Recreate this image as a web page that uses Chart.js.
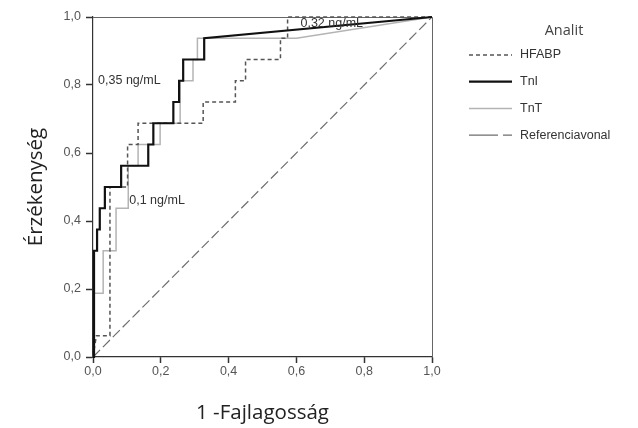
<!DOCTYPE html>
<html>
<head>
<meta charset="utf-8">
<script src="https://cdn.jsdelivr.net/npm/chart.js@4.4.1/dist/chart.umd.min.js"></script>
<style>
    html, body { margin: 0; padding: 0; background: #fff; }
    #roc { display: block; }
</style>
</head>
<body>
<canvas id="roc" width="638" height="428"></canvas>
<script>
// ROC curve data (1 - specificity on x, sensitivity on y)
var seriesNames = ['HFABP', 'TnI', 'TnT', 'Referenciavonal'];
var legendTitle = 'Analit';

var hfabpX = [0, 0.01, 0.05, 0.05, 0.102, 0.102, 0.133, 0.133, 0.325, 0.325, 0.42, 0.42, 0.45, 0.45, 0.553, 0.553, 0.574, 0.574, 1];
var hfabpY = [0, 0.0625, 0.0625, 0.5, 0.5, 0.625, 0.625, 0.6875, 0.6875, 0.75, 0.75, 0.8125, 0.8125, 0.875, 0.875, 0.9375, 0.9375, 1, 1];

var tniX = [0, 0.003, 0.003, 0.012, 0.012, 0.02, 0.02, 0.035, 0.035, 0.083, 0.083, 0.163, 0.163, 0.178, 0.178, 0.237, 0.237, 0.254, 0.254, 0.266, 0.266, 0.328, 0.328, 1];
var tniY = [0, 0, 0.3125, 0.3125, 0.375, 0.375, 0.4375, 0.4375, 0.5, 0.5, 0.5625, 0.5625, 0.625, 0.625, 0.6875, 0.6875, 0.75, 0.75, 0.8125, 0.8125, 0.875, 0.875, 0.9375, 1];

var tntX = [0, 0.003, 0.003, 0.03, 0.03, 0.068, 0.068, 0.104, 0.104, 0.133, 0.133, 0.198, 0.198, 0.257, 0.257, 0.295, 0.295, 0.308, 0.308, 0.6, 1];
var tntY = [0, 0, 0.1875, 0.1875, 0.3125, 0.3125, 0.4375, 0.4375, 0.5625, 0.5625, 0.625, 0.625, 0.6875, 0.6875, 0.8125, 0.8125, 0.875, 0.875, 0.9375, 0.9375, 1];

var refX = [0, 1];
var refY = [0, 1];

var axisTicks = [0, 0.2, 0.4, 0.6, 0.8, 1.0];

// cut-off labels placed at (x, y) in data units
var cutoffText = ['0,35 ng/mL', '0,1 ng/mL', '0,32 ng/mL'];
var cutoffX = [0.015, 0.107, 0.612];
var cutoffY = [0.812, 0.46, 0.98];

function toPoints(xs, ys) {
    return xs.map(function(x, i) { return { x: x, y: ys[i] }; });
}

function fmtComma(v) {
    return Number(v).toFixed(1).replace('.', ',');
}

var lineStyles = [
    { color: '#555555', width: 1.5, dash: [4, 3], legendDash: [4, 3] },
    { color: '#111111', width: 2.2, dash: [], legendDash: [] },
    { color: '#b4b4b4', width: 1.5, dash: [], legendDash: [] },
    { color: '#6e6e6e', width: 1.2, dash: [10, 4], legendDash: [29, 5] }
];

var seriesData = [
    toPoints(hfabpX, hfabpY),
    toPoints(tniX, tniY),
    toPoints(tntX, tntY),
    toPoints(refX, refY)
];
var drawOrder = [1, 0, 2, 3];

var datasets = seriesNames.map(function(name, i) {
    var s = lineStyles[i];
    return {
        label: name,
        data: seriesData[i],
        showLine: true,
        borderColor: s.color,
        backgroundColor: s.color,
        borderWidth: s.width,
        borderDash: s.dash,
        pointRadius: 0,
        pointHoverRadius: 0,
        tension: 0,
        fill: false,
        clip: 4,
        order: drawOrder[i]
    };
});

var rocExtras = {
    id: 'rocExtras',
    beforeDatasetsDraw: function(chart) {
        var a = chart.chartArea, ctx = chart.ctx;
        ctx.save();
        ctx.strokeStyle = '#666';
        ctx.lineWidth = 1;
        ctx.beginPath();
        ctx.moveTo(a.left, a.top + 0.5);
        ctx.lineTo(a.right + 0.5, a.top + 0.5);
        ctx.lineTo(a.right + 0.5, a.bottom);
        ctx.stroke();
        ctx.restore();
    },
    afterDraw: function(chart) {
        var ctx = chart.ctx;
        var xs = chart.scales.x, ys = chart.scales.y;
        ctx.save();

        // cut-off annotations
        ctx.font = '12.5px "Liberation Sans", Arial, sans-serif';
        ctx.fillStyle = '#333';
        ctx.textBaseline = 'middle';
        ctx.textAlign = 'left';
        cutoffText.forEach(function(t, i) {
            ctx.fillText(t, xs.getPixelForValue(cutoffX[i]), ys.getPixelForValue(cutoffY[i]));
        });

        // legend on the right
        var lx0 = 469, lx1 = 512, tx = 520;
        ctx.font = '14.5px "Open Sans", sans-serif';
        ctx.fillStyle = '#444';
        ctx.textAlign = 'center';
        ctx.fillText(legendTitle, 564, 31);

        ctx.font = '12.5px "Liberation Sans", Arial, sans-serif';
        ctx.textAlign = 'left';
        seriesNames.forEach(function(name, i) {
            var y = 55 + i * 26.7;
            var s = lineStyles[i];
            ctx.strokeStyle = s.color;
            ctx.lineWidth = s.width;
            ctx.setLineDash(s.legendDash);
            ctx.beginPath();
            ctx.moveTo(lx0, y);
            ctx.lineTo(lx1, y);
            ctx.stroke();
            ctx.setLineDash([]);
            ctx.fillStyle = '#333';
            ctx.fillText(name, tx, y);
        });
        ctx.restore();
    }
};

function axisOptions(titleText, isY) {
    return {
        type: 'linear',
        min: 0,
        max: 1,
        afterBuildTicks: function(scale) {
            scale.ticks = axisTicks.map(function(v) { return { value: v }; });
        },
        afterFit: function(scale) {
            if (isY) scale.width = 93;
            else scale.height = 71;
        },
        grid: {
            drawOnChartArea: false,
            drawTicks: true,
            tickLength: isY ? 7 : 6,
            tickWidth: 1.5,
            tickColor: '#333'
        },
        border: { display: true, color: '#333', width: 1.2 },
        ticks: {
            padding: isY ? 5 : 1,
            color: '#555',
            font: { family: '"Liberation Sans", Arial, sans-serif', size: 12.5 },
            callback: function(v) { return fmtComma(v); }
        },
        title: {
            display: true,
            text: titleText,
            color: '#222',
            font: { family: '"Open Sans", sans-serif', size: 20.5 },
            padding: isY ? { top: 24, bottom: 0 } : { top: 0, bottom: 3 }
        }
    };
}

new Chart(document.getElementById('roc'), {
    type: 'scatter',
    data: { datasets: datasets },
    options: {
        responsive: false,
        animation: false,
        layout: { padding: { top: 17, right: 206, left: 0, bottom: 0 } },
        plugins: {
            legend: { display: false },
            tooltip: { enabled: false }
        },
        scales: {
            x: axisOptions('1 -Fajlagosság', false),
            y: axisOptions('Érzékenység', true)
        }
    },
    plugins: [rocExtras]
});
</script>
</body>
</html>
